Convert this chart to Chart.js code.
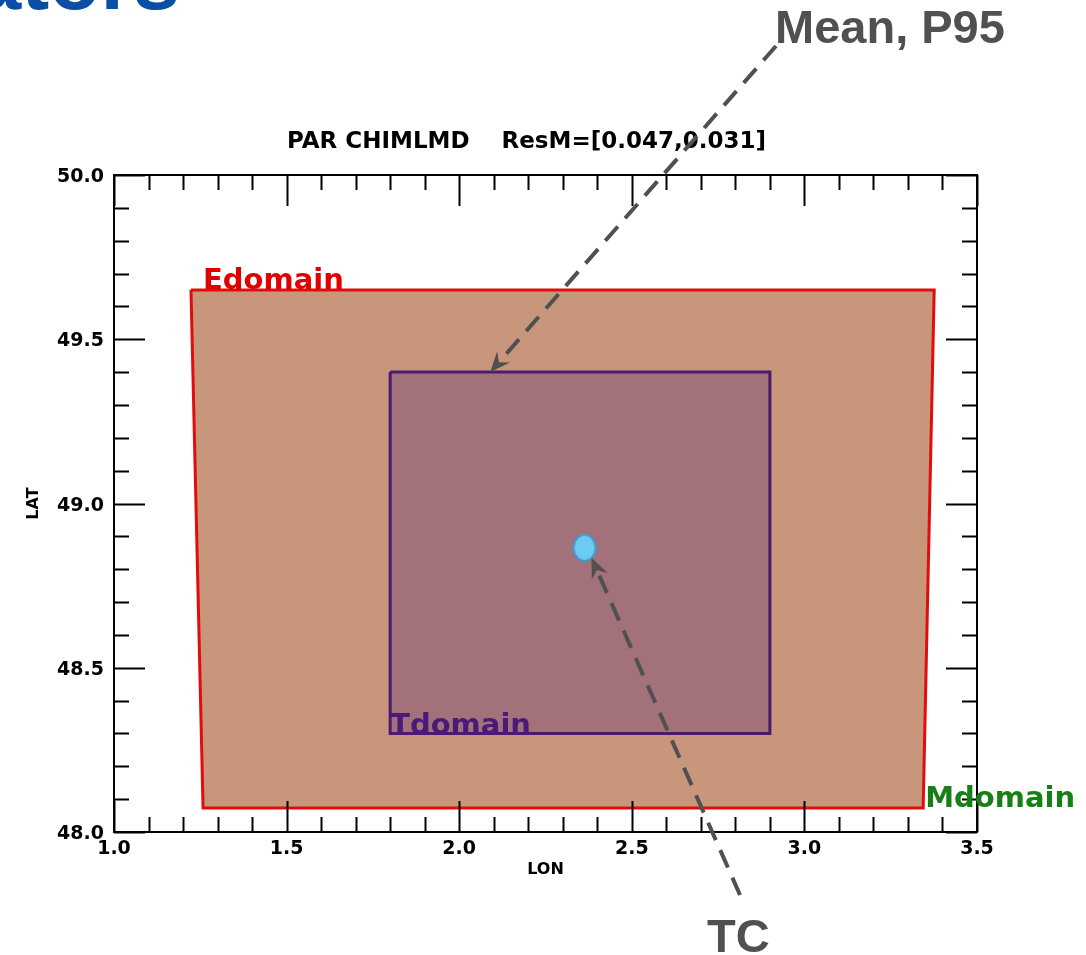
<!DOCTYPE html>
<html>
<head>
<meta charset="utf-8">
<script src="https://cdn.jsdelivr.net/npm/chart.js@4.4.0/dist/chart.umd.min.js"></script>
<style>
    html, body { margin: 0; padding: 0; background: #fff; }
    #wrap { width: 1086px; height: 955px; position: relative; }
</style>
</head>
<body>
<div id="wrap"><canvas id="domainChart" width="1086" height="955"></canvas></div>
<script>
// ========================================
// DATA
// ========================================

const chartTitle = 'PAR CHIMLMD    ResM=[0.047,0.031]';
const xTicks = [1.0, 1.5, 2.0, 2.5, 3.0, 3.5];
const yTicks = [48.0, 48.5, 49.0, 49.5, 50.0];

// domain outlines (lon, lat), closed
const eDomainLon = [1.223, 3.376, 3.344, 1.258, 1.223];
const eDomainLat = [49.65, 49.65, 48.073, 48.073, 49.65];
const tDomainLon = [1.80, 2.90, 2.90, 1.80, 1.80];
const tDomainLat = [49.40, 49.40, 48.30, 48.30, 49.40];

// TC centre
const tcLon = [2.363];
const tcLat = [48.865];

// Mean/P95 arrow target (top of Tdomain)
const meanTarget = { lon: 2.09, lat: 49.40 };

function toPoints(lons, lats) {
    return lons.map((v, i) => ({ x: v, y: lats[i] }));
}

// ellipse marker for TC
function makeEllipse() {
    const c = document.createElement('canvas');
    c.width = 28; c.height = 32;
    const g = c.getContext('2d');
    g.beginPath();
    g.ellipse(14, 16, 11, 13, 0, 0, Math.PI * 2);
    g.fillStyle = '#6ccbf2';
    g.fill();
    g.lineWidth = 2;
    g.strokeStyle = '#3e9fc9';
    g.stroke();
    return c;
}

// ========================================
// DRAW HELPERS
// ========================================

function dashedArrow(ctx, x0, y0, x1, y1) {
    const ang = Math.atan2(y1 - y0, x1 - x0);
    const headLen = 22;
    ctx.save();
    ctx.strokeStyle = '#505050';
    ctx.fillStyle = '#505050';
    ctx.lineWidth = 4;
    ctx.setLineDash([19, 11]);
    ctx.beginPath();
    ctx.moveTo(x0, y0);
    ctx.lineTo(x1 - Math.cos(ang) * headLen * 0.8, y1 - Math.sin(ang) * headLen * 0.8);
    ctx.stroke();
    ctx.setLineDash([]);
    ctx.beginPath();
    ctx.moveTo(x1, y1);
    ctx.lineTo(x1 - headLen * Math.cos(ang - 0.4), y1 - headLen * Math.sin(ang - 0.4));
    ctx.lineTo(x1 - headLen * 0.6 * Math.cos(ang), y1 - headLen * 0.6 * Math.sin(ang));
    ctx.lineTo(x1 - headLen * Math.cos(ang + 0.4), y1 - headLen * Math.sin(ang + 0.4));
    ctx.closePath();
    ctx.fill();
    ctx.restore();
}

const framePlugin = {
    id: 'framePlugin',
    afterDatasetsDraw(chart) {
        const ctx = chart.ctx;
        const a = chart.chartArea;
        const xs = chart.scales.x;
        const ys = chart.scales.y;

        ctx.save();
        ctx.strokeStyle = '#000';
        ctx.lineWidth = 2;

        // inward ticks on all four sides
        for (let i = 0; i <= 25; i++) {
            const v = 1.0 + i * 0.1;
            const px = Math.round(xs.getPixelForValue(v)) + 0.5;
            const len = (i % 5 === 0) ? 31 : 15;
            ctx.beginPath();
            ctx.moveTo(px, a.bottom); ctx.lineTo(px, a.bottom - len);
            ctx.moveTo(px, a.top); ctx.lineTo(px, a.top + len);
            ctx.stroke();
        }
        for (let i = 0; i <= 20; i++) {
            const v = 48.0 + i * 0.1;
            const py = Math.round(ys.getPixelForValue(v)) + 0.5;
            const len = (i % 5 === 0) ? 31 : 15;
            ctx.beginPath();
            ctx.moveTo(a.left, py); ctx.lineTo(a.left + len, py);
            ctx.moveTo(a.right, py); ctx.lineTo(a.right - len, py);
            ctx.stroke();
        }

        ctx.strokeRect(a.left, a.top, a.right - a.left, a.bottom - a.top);

        // tick labels
        ctx.fillStyle = '#000';
        ctx.font = 'bold 19px "DejaVu Sans"';
        ctx.textAlign = 'center';
        ctx.textBaseline = 'alphabetic';
        xTicks.forEach(v => {
            ctx.fillText(v.toFixed(1), xs.getPixelForValue(v), a.bottom + 22);
        });
        ctx.textAlign = 'right';
        yTicks.forEach(v => {
            ctx.fillText(v.toFixed(1), a.left - 10, ys.getPixelForValue(v) + 7);
        });

        // axis titles
        ctx.font = 'bold 16px "DejaVu Sans"';
        ctx.textAlign = 'center';
        ctx.fillText('LON', (a.left + a.right) / 2, a.bottom + 42);
        ctx.save();
        ctx.translate(38, (a.top + a.bottom) / 2);
        ctx.rotate(-Math.PI / 2);
        ctx.fillText('LAT', 0, 0);
        ctx.restore();

        // title
        ctx.font = 'bold 23px "DejaVu Sans"';
        ctx.fillText(chartTitle, (a.left + a.right) / 2 - 19, a.top - 27);

        // domain labels
        ctx.font = 'bold 29px "DejaVu Sans"';
        ctx.textAlign = 'left';
        ctx.fillStyle = '#e00000';
        ctx.fillText('Edomain', xs.getPixelForValue(eDomainLon[0]) + 12, ys.getPixelForValue(eDomainLat[0]) - 1);
        ctx.fillStyle = '#4b1a78';
        ctx.fillText('Tdomain', xs.getPixelForValue(tDomainLon[3]), ys.getPixelForValue(tDomainLat[3]) + 1);
        ctx.fillStyle = '#168016';
        ctx.fillText('Mdomain', xs.getPixelForValue(eDomainLon[2]) + 2, ys.getPixelForValue(eDomainLat[2]) - 1);

        // annotations
        ctx.fillStyle = '#505050';
        ctx.font = 'bold 47px "Liberation Sans"';
        ctx.textAlign = 'left';
        ctx.fillText('Mean, P95', 775, 43);
        ctx.fillText('TC', 707, 952);

        dashedArrow(ctx, 776, 46, xs.getPixelForValue(meanTarget.lon), ys.getPixelForValue(meanTarget.lat));
        const tcx = xs.getPixelForValue(tcLon[0]);
        const tcy = ys.getPixelForValue(tcLat[0]);
        dashedArrow(ctx, 740, 895, tcx + 7, tcy + 10);

        // cut-off heading at top left
        ctx.fillStyle = '#0a4fa5';
        ctx.font = 'bold 84px "Liberation Sans"';
        ctx.textAlign = 'right';
        ctx.fillText('ators', 180, 9);

        ctx.restore();
    }
};

// ========================================
// CHART
// ========================================

const ctx = document.getElementById('domainChart').getContext('2d');
new Chart(ctx, {
    type: 'scatter',
    data: {
        datasets: [
            {
                label: 'Edomain',
                data: toPoints(eDomainLon, eDomainLat),
                showLine: true,
                tension: 0,
                borderColor: '#e30c0c',
                borderWidth: 3,
                backgroundColor: '#c8967a',
                fill: 'shape',
                pointRadius: 0,
                order: 3
            },
            {
                label: 'Tdomain',
                data: toPoints(tDomainLon, tDomainLat),
                showLine: true,
                tension: 0,
                borderColor: '#4b1a6e',
                borderWidth: 3,
                backgroundColor: '#a2717a',
                fill: 'shape',
                pointRadius: 0,
                order: 2
            },
            {
                label: 'TC',
                data: toPoints(tcLon, tcLat),
                pointStyle: makeEllipse(),
                pointRadius: 13,
                order: 1
            }
        ]
    },
    options: {
        responsive: false,
        animation: false,
        layout: { padding: { left: 114, right: 109, top: 175, bottom: 123 } },
        plugins: {
            legend: { display: false },
            tooltip: { enabled: false }
        },
        scales: {
            x: { type: 'linear', min: 1.0, max: 3.5, display: false },
            y: { type: 'linear', min: 48.0, max: 50.0, display: false }
        }
    },
    plugins: [framePlugin]
});
</script>
</body>
</html>
